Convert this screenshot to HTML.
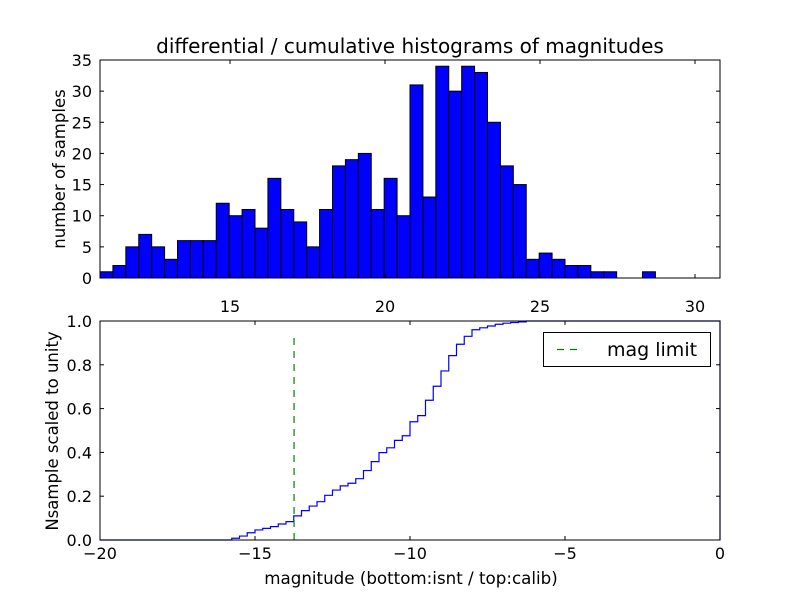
<!DOCTYPE html>
<html><head><meta charset="utf-8"><style>
body{margin:0;background:#fff;}
svg text{font-family:"DejaVu Sans","Liberation Sans",sans-serif;fill:#000;}
</style></head><body>
<svg id="c" width="800" height="600" viewBox="0 0 800 600" xmlns="http://www.w3.org/2000/svg">
<rect width="800" height="600" fill="#fff"/>
<g id="top"></g><g id="bot"></g>
</svg>
<script>
const topCounts=[1,2,5,7,5,3,6,6,6,12,10,11,8,16,11,9,5,11,18,19,20,11,16,10,31,13,34,30,34,33,25,18,15,3,4,3,2,2,1,1,0,0,1,0,0,0,0,0];
const topXTicks=[15,20,25,30];
const topYTicks=[0,5,10,15,20,25,30,35];
const cumEdges=[-15.75,-15.5,-15.25,-15,-14.75,-14.5,-14.25,-14,-13.75,-13.5,-13.25,-13,-12.75,-12.5,-12.25,-12,-11.75,-11.5,-11.25,-11,-10.75,-10.5,-10.25,-10,-9.75,-9.5,-9.25,-9,-8.75,-8.5,-8.25,-8,-7.75,-7.5,-7.25,-7,-6.75,-6.5,-6.25];
const cumValues=[0.008,0.018,0.033,0.046,0.053,0.061,0.073,0.084,0.110,0.134,0.155,0.175,0.204,0.228,0.247,0.259,0.280,0.317,0.358,0.399,0.421,0.455,0.476,0.540,0.568,0.638,0.702,0.772,0.842,0.894,0.930,0.960,0.969,0.977,0.985,0.990,0.993,0.996,1.0];
const botXTicks=[-20,-15,-10,-5,0];
const botYTicks=[0,0.2,0.4,0.6,0.8,1.0];
const magLimit=-13.74;

const NS='http://www.w3.org/2000/svg';
function mk(parent,tag,attrs,txt){const e=document.createElementNS(NS,tag);for(const k in attrs)e.setAttribute(k,attrs[k]);if(txt!==undefined)e.textContent=txt;parent.appendChild(e);return e;}
const L=100,R=720;
const T0=60,T1=278,txMin=10.806,txMax=30.806,tyMax=35;
const tx=v=>L+(v-txMin)/(txMax-txMin)*(R-L);
const ty=v=>T1-v/tyMax*(T1-T0);
const gt=document.getElementById('top');
const bw=(txMax-txMin)/topCounts.length;
topCounts.forEach((c,i)=>{
  if(c<=0)return;
  const x0=tx(txMin+i*bw),x1=tx(txMin+(i+1)*bw);
  const r=mk(gt,'rect',{x:x0,y:ty(c),width:x1-x0,height:ty(0)-ty(c),fill:'#0000ff',stroke:'#000','stroke-width':1});
  
  
});
let e=mk(gt,'rect',{x:L,y:T0,width:R-L,height:T1-T0,fill:'none',stroke:'#000','stroke-width':1});

topXTicks.forEach(v=>{const x=tx(v);mk(gt,'line',{x1:x,x2:x,y1:T1,y2:T1-4,stroke:'#000'});mk(gt,'line',{x1:x,x2:x,y1:T0,y2:T0+4,stroke:'#000'});
  const t=mk(gt,'text',{x:x,y:T1+34,'text-anchor':'middle','font-size':16},String(v));});
topYTicks.forEach(v=>{const y=ty(v);mk(gt,'line',{x1:L,x2:L+4,y1:y,y2:y,stroke:'#000'});mk(gt,'line',{x1:R,x2:R-4,y1:y,y2:y,stroke:'#000'});
  const t=mk(gt,'text',{x:L-8,y:y+6,'text-anchor':'end','font-size':16},String(v));});
e=mk(gt,'text',{x:410,y:53,'text-anchor':'middle','font-size':20},'differential / cumulative histograms of magnitudes');

e=mk(gt,'text',{x:65,y:169,'text-anchor':'middle','font-size':16.5,transform:'rotate(-90 65 169)'},'number of samples');

const B0=321,B1=540,bxMin=-20,bxMax=0;
const bx=v=>L+(v-bxMin)/(bxMax-bxMin)*(R-L);
const by=v=>B1-v*(B1-B0);
const gb=document.getElementById('bot');
let d='M'+bx(bxMin)+','+by(0);
let prev=0;
cumEdges.forEach((ed,i)=>{d+=' L'+bx(ed)+','+by(prev)+' L'+bx(ed)+','+by(cumValues[i]);prev=cumValues[i];});
d+=' L'+R+','+by(prev)+' L'+R+','+by(0);
e=mk(gb,'path',{d:d,fill:'none',stroke:'#0000ff','stroke-width':1.2});

e=mk(gb,'line',{x1:bx(magLimit),x2:bx(magLimit),y1:B1,y2:332,stroke:'#008000','stroke-width':1.2,'stroke-dasharray':'7,6'});

e=mk(gb,'rect',{x:L,y:B0,width:R-L,height:B1-B0,fill:'none',stroke:'#000','stroke-width':1});

botXTicks.forEach(v=>{const x=bx(v);mk(gb,'line',{x1:x,x2:x,y1:B1,y2:B1-4,stroke:'#000'});mk(gb,'line',{x1:x,x2:x,y1:B0,y2:B0+4,stroke:'#000'});
  const t=mk(gb,'text',{x:x,y:B1+19,'text-anchor':'middle','font-size':16},v<0?'\u2212'+Math.abs(v):String(v));});
botYTicks.forEach(v=>{const y=by(v);mk(gb,'line',{x1:L,x2:L+4,y1:y,y2:y,stroke:'#000'});mk(gb,'line',{x1:R,x2:R-4,y1:y,y2:y,stroke:'#000'});
  const t=mk(gb,'text',{x:L-8,y:y+6,'text-anchor':'end','font-size':16},v.toFixed(1));});
e=mk(gb,'text',{x:411,y:584,'text-anchor':'middle','font-size':16.7},'magnitude (bottom:isnt / top:calib)');

e=mk(gb,'text',{x:58,y:431,'text-anchor':'middle','font-size':16.5,transform:'rotate(-90 58 431)'},'Nsample scaled to unity');

const lg=mk(gb,'g',{});

mk(lg,'rect',{x:543.5,y:332.5,width:167,height:34,fill:'#fff',stroke:'#000','stroke-width':1});
mk(lg,'line',{x1:557,x2:583,y1:349.5,y2:349.5,stroke:'#008000','stroke-width':1.2,'stroke-dasharray':'7,6'});
e=mk(lg,'text',{x:607,y:356,'font-size':19},'mag limit');

</script>
</body></html>
